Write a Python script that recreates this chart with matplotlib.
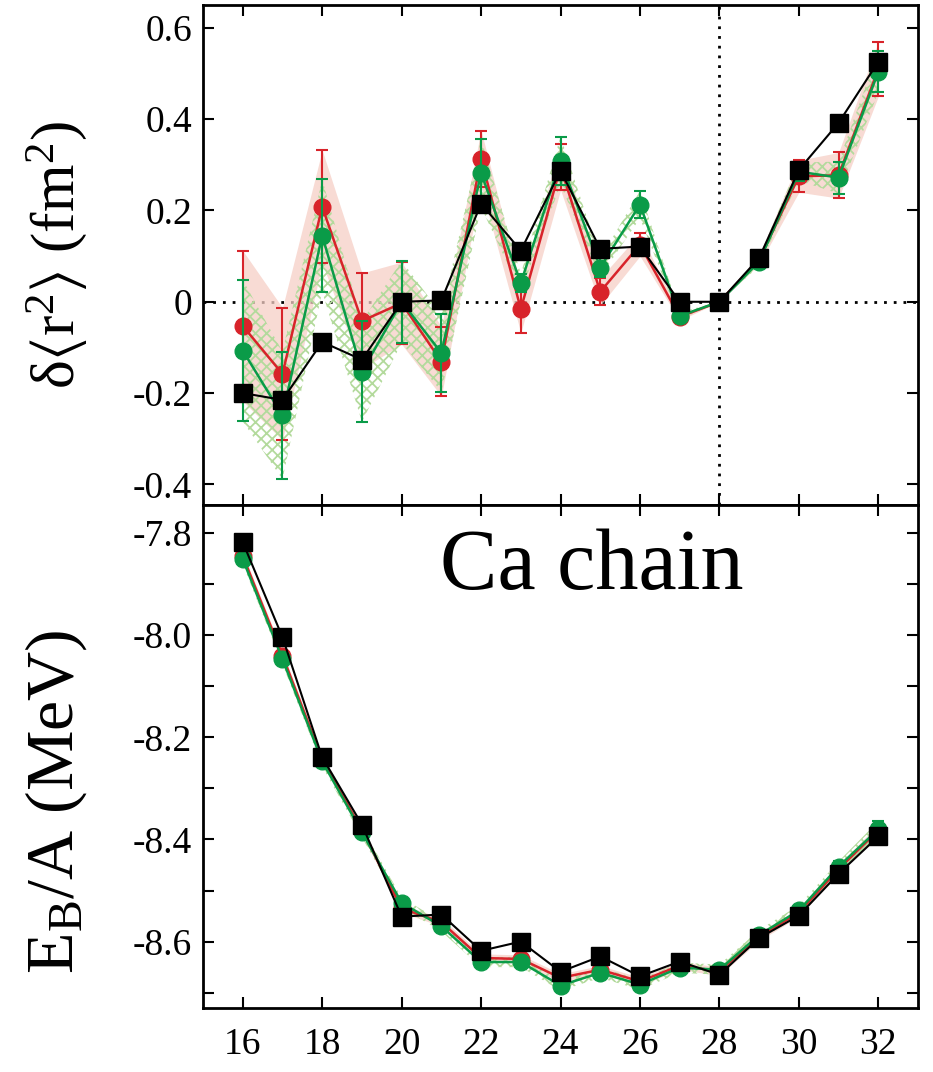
import numpy as np
import matplotlib
matplotlib.use('Agg')
import matplotlib.pyplot as plt
from matplotlib.ticker import FixedLocator, FixedFormatter, MultipleLocator

# ============================================================================ #

plt.rcParams['font.family'] = ['Liberation Serif', 'DejaVu Serif']
plt.rcParams['mathtext.fontset'] = 'custom'
plt.rcParams['mathtext.rm'] = 'Liberation Serif'
plt.rcParams['mathtext.it'] = 'Liberation Serif'
plt.rcParams['mathtext.default'] = 'regular'
plt.rcParams['mathtext.fallback'] = 'stix'
plt.rcParams['axes.unicode_minus'] = False
plt.rcParams['hatch.linewidth'] = 1.3

# neutron number of the Ca isotopes
N = [16, 17, 18, 19, 20, 21, 22, 23, 24, 25, 26, 27, 28, 29, 30, 31, 32]

# charge radii differences (fm^2)
r2_black = [-0.200, -0.215, -0.088, -0.127, 0.000, 0.003, 0.215, 0.112, 0.287,
            0.116, 0.121, 0.000, 0.000, 0.096, 0.289, 0.392, 0.526]
r2_red = [-0.053, -0.158, 0.208, -0.042, -0.003, -0.131, 0.313, -0.016, 0.295,
          0.022, 0.125, -0.033, 0.000, 0.092, 0.275, 0.277, 0.510]
r2_red_err = [0.165, 0.145, 0.124, 0.105, 0.090, 0.076, 0.062, 0.052, 0.050,
              0.030, 0.025, 0.008, 0.000, 0.010, 0.035, 0.050, 0.060]
r2_green = [-0.107, -0.249, 0.145, -0.153, 0.000, -0.112, 0.282, 0.041, 0.309,
            0.075, 0.213, -0.031, 0.000, 0.088, 0.285, 0.272, 0.504]
r2_green_err = [0.155, 0.140, 0.123, 0.110, 0.090, 0.085, 0.075, 0.020, 0.053,
                0.020, 0.030, 0.008, 0.000, 0.010, 0.020, 0.035, 0.045]

# binding energy per nucleon (MeV)
eb_black = [-7.818, -8.004, -8.239, -8.371, -8.551, -8.547, -8.618, -8.600,
            -8.659, -8.629, -8.668, -8.639, -8.665, -8.593, -8.549, -8.467,
            -8.394]
eb_red = [-7.845, -8.040, -8.243, -8.382, -8.535, -8.562, -8.632, -8.634,
          -8.671, -8.655, -8.678, -8.647, -8.658, -8.590, -8.543, -8.458,
          -8.382]
eb_red_err = [0.008] * 16 + [0.012]
eb_green = [-7.851, -8.047, -8.247, -8.386, -8.524, -8.570, -8.640, -8.640,
            -8.686, -8.661, -8.684, -8.651, -8.655, -8.587, -8.539, -8.453,
            -8.380]
eb_green_err = [0.010] * 16 + [0.016]

r2_ticks = [-0.4, -0.2, 0.0, 0.2, 0.4, 0.6]
r2_ticklabels = ['-0.4', '-0.2', '0', '0.2', '0.4', '0.6']
eb_ticks = [-8.6, -8.4, -8.2, -8.0, -7.8]
eb_ticklabels = ['-8.6', '-8.4', '-8.2', '-8.0', '-7.8']
x_ticks = [16, 18, 20, 22, 24, 26, 28, 30, 32]

RED = '#d8232a'
GREEN = '#0a9b48'
PINK = '#f6cfc6'
HATCH = '#b3da9c'

# ============================================================================ #

fig = plt.figure(figsize=(9.33, 10.72), dpi=100)
ax1 = fig.add_axes([0.2176, 0.529, 0.7664, 0.4663])
ax2 = fig.add_axes([0.2176, 0.0597, 0.7664, 0.4693])


def draw_panel(ax, black, red, red_err, green, green_err):
    red = np.array(red)
    red_err = np.array(red_err)
    green = np.array(green)
    green_err = np.array(green_err)
    ax.fill_between(N, red - red_err, red + red_err, color=PINK, alpha=0.75,
                    lw=0, zorder=1)
    ax.fill_between(N, green - green_err, green + green_err, facecolor='none',
                    edgecolor=HATCH, hatch='xxx', lw=0, zorder=1.5)
    ax.errorbar(N, red, yerr=red_err, color=RED, marker='o', ms=12, lw=1.8,
                elinewidth=1.5, capsize=4, capthick=1.5, zorder=2)
    ax.errorbar(N, green, yerr=green_err, color=GREEN, marker='o', ms=12,
                lw=1.8, elinewidth=1.5, capsize=4, capthick=1.5, zorder=3)
    ax.plot(N, black, color='black', marker='s', ms=12.5, lw=1.5, zorder=4)


draw_panel(ax1, r2_black, r2_red, r2_red_err, r2_green, r2_green_err)
draw_panel(ax2, eb_black, eb_red, eb_red_err, eb_green, eb_green_err)

# dotted reference lines in the radii panel
ax1.axhline(0, color='black', ls=(0, (1, 2.5)), lw=2, zorder=0.5)
ax1.axvline(28, color='black', ls=(0, (1, 2.5)), lw=2, zorder=0.5)

for ax in (ax1, ax2):
    ax.set_xlim(15, 33)
    ax.xaxis.set_major_locator(FixedLocator(x_ticks))
    ax.tick_params(which='both', direction='in', top=True, right=True,
                   length=8, width=1.5, labelsize=27, pad=8)
    for sp in ax.spines.values():
        sp.set_linewidth(2)

ax1.set_ylim(-0.445, 0.65)
ax1.yaxis.set_major_locator(FixedLocator(r2_ticks))
ax1.yaxis.set_major_formatter(FixedFormatter(r2_ticklabels))
ax1.tick_params(labelbottom=False)
ax1.set_ylabel(r'δ$\langle$r$^2\rangle$ (fm$^2$)', fontsize=44)
ax1.yaxis.set_label_coords(-0.16, 0.5)

ax2.set_ylim(-8.73, -7.745)
ax2.yaxis.set_major_locator(FixedLocator(eb_ticks))
ax2.yaxis.set_major_formatter(FixedFormatter(eb_ticklabels))
ax2.yaxis.set_minor_locator(MultipleLocator(0.1))
ax2.tick_params(axis='x', pad=14)
ax2.set_ylabel(r'E$_B$/A (MeV)', fontsize=49)
ax2.yaxis.set_label_coords(-0.16, 0.41)

ax2.text(0.544, 0.875, 'Ca chain', transform=ax2.transAxes, fontsize=62,
         ha='center', va='center')

fig.savefig('out.png', dpi=100)
